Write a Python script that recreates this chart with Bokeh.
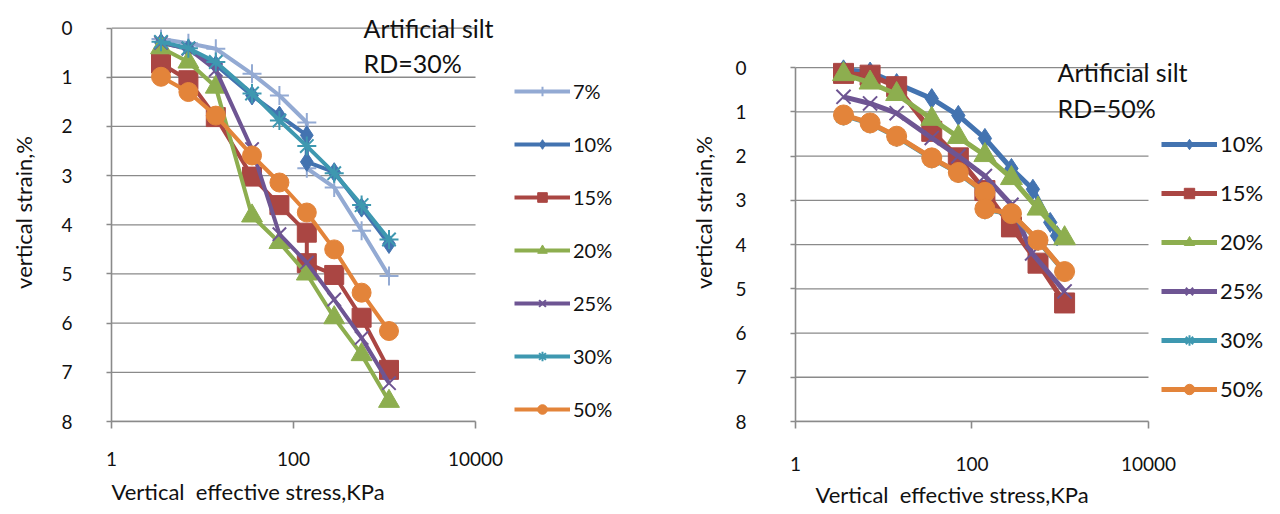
from bokeh.plotting import figure
from bokeh.models import (Range1d, FixedTicker, BasicTickFormatter, Legend, LegendItem, Label, Title)
from bokeh.layouts import row
from bokeh.embed import file_html
from bokeh.resources import INLINE

# ---------------- data: left chart (RD=30%) ----------------
L_x_std = [3.5, 7, 14, 35, 70, 140, 280, 560, 1120]
L_x_jump = [3.5, 7, 14, 35, 70, 140, 140, 280, 560, 1120]
L_7 = [0.22, 0.31, 0.42, 0.93, 1.37, 1.92, 2.85, 3.24, 4.12, 5.04]
L_10 = [0.30, 0.42, 0.75, 1.37, 1.78, 2.18, 2.72, 2.93, 3.65, 4.39]
L_15 = [0.72, 1.06, 1.81, 3.02, 3.60, 4.16, 4.78, 5.02, 5.89, 6.95]
L_20 = [0.40, 0.69, 1.20, 3.82, 4.36, 5.00, 5.89, 6.64, 7.59]
L_25 = [0.30, 0.42, 0.85, 2.46, 4.19, 4.77, 5.52, 6.30, 7.22]
L_30 = [0.28, 0.41, 0.69, 1.33, 1.88, 2.40, 2.95, 3.60, 4.30]
L_50 = [0.99, 1.30, 1.78, 2.59, 3.14, 3.75, 4.50, 5.38, 6.16]

# ---------------- data: right chart (RD=50%) ----------------
R_x_std = [3.5, 7, 14, 35, 70, 140, 280, 560, 1120]
R_x_10 = [3.5, 7, 14, 35, 70, 140, 280, 490, 770, 920]
R_x_25 = [3.5, 7, 14, 35, 70, 140, 280, 480, 1120]
R_x_jump = [3.5, 7, 14, 35, 70, 140, 140, 280, 560, 1120]
R_10 = [0.05, 0.10, 0.36, 0.70, 1.08, 1.60, 2.28, 2.75, 3.50, 3.80]
R_15 = [0.13, 0.17, 0.43, 1.44, 2.04, 2.78, 3.60, 4.42, 5.32]
R_20 = [0.15, 0.34, 0.60, 1.16, 1.57, 1.98, 2.50, 3.19, 3.86]
R_25 = [0.66, 0.81, 1.03, 1.59, 2.00, 2.45, 3.10, 4.20, 5.06]
R_30 = [1.08, 1.26, 1.56, 2.05, 2.38, 2.83, 3.20, 3.31, 3.91, 4.62]
R_50 = [1.07, 1.25, 1.55, 2.04, 2.37, 2.82, 3.19, 3.30, 3.90, 4.61]

x_ticks = [1, 100, 10000]
y_ticks = [0, 1, 2, 3, 4, 5, 6, 7, 8]

COL = {"7%": "#93AAD3", "10%": "#4373B0", "15%": "#AA4643", "20%": "#8DAE4F",
       "25%": "#6E5593", "30%": "#3E98B0", "50%": "#E3843A"}
MARK = {"7%": "cross", "10%": "diamond", "15%": "square", "20%": "triangle",
        "25%": "x", "30%": "asterisk", "50%": "circle"}
FONT = "Lato"
GRID = "#8A8A8A"
TXT = "#111111"
XLABEL = "Vertical\u00a0 effective stress,KPa"


def make_fig(width, height, b_left, b_right, b_top, b_bottom, xend, ytop):
    p = figure(width=width, height=height, x_axis_type="log",
               x_range=Range1d(1, xend), y_range=Range1d(8, ytop),
               output_backend="svg", toolbar_location=None,
               min_border_left=b_left, min_border_right=b_right,
               min_border_top=b_top, min_border_bottom=b_bottom)
    p.outline_line_color = None
    p.background_fill_color = "white"
    p.border_fill_color = "white"
    p.xgrid.grid_line_color = None
    p.ygrid.grid_line_color = None
    # horizontal grid lines spanning the axis extent only
    n = len(y_ticks)
    p.segment(x0=[x_ticks[0]] * n, x1=[x_ticks[-1]] * n, y0=y_ticks, y1=y_ticks,
              line_color=GRID, line_width=1.3)
    p.xaxis.ticker = FixedTicker(ticks=x_ticks)
    p.xaxis.formatter = BasicTickFormatter(use_scientific=False)
    p.xaxis.bounds = (x_ticks[0], x_ticks[-1])
    p.yaxis.ticker = FixedTicker(ticks=y_ticks)
    p.yaxis.bounds = (y_ticks[0], y_ticks[-1])
    for ax in (p.xaxis[0], p.yaxis[0]):
        ax.axis_line_color = GRID
        ax.axis_line_width = 1.6
        ax.major_tick_line_color = GRID
        ax.major_tick_line_width = 1.6
        ax.major_tick_in = 0
        ax.minor_tick_line_color = None
        ax.major_label_text_font = FONT
        ax.major_label_text_font_size = "19px"
        ax.major_label_text_color = TXT
        ax.axis_label_text_font = FONT
        ax.axis_label_text_font_size = "22px"
        ax.axis_label_text_font_style = "normal"
        ax.axis_label_text_color = TXT
    p.xaxis.major_tick_out = 7
    p.yaxis.major_tick_out = 5
    p.yaxis.axis_label = "vertical strain,%"
    return p


def add_series(p, xs, ys, name, lw, msize):
    c = COL[name]
    ln = p.line(xs, ys, line_color=c, line_width=lw)
    m = MARK[name]
    if m in ("cross", "x", "asterisk"):
        sc = p.scatter(xs, ys, marker=m, size=msize, line_color=c, line_width=2, fill_color=None)
    else:
        s = msize * (1.1 if m == "triangle" else 1.0)
        sc = p.scatter(xs, ys, marker=m, size=s, line_color=c, fill_color=c, line_width=1)
    return LegendItem(label=name, renderers=[ln, sc])


def xtitle(p, offset, standoff):
    t = Title(text=XLABEL, align="left", offset=offset, standoff=standoff,
              text_font=FONT, text_font_size="22px", text_font_style="normal",
              text_color=TXT)
    p.add_layout(t, "below")


# ---------------- left figure ----------------
pl = make_fig(640, 512, 111, 15, 3, 91, 444600, -0.5)
pl.yaxis.major_label_standoff = 34
pl.yaxis.axis_label_standoff = 21
pl.xaxis.major_label_standoff = 23
xtitle(pl, 0, 15)

items_l = [
    add_series(pl, L_x_jump, L_7, "7%", 4, 19),
    add_series(pl, L_x_jump, L_10, "10%", 4, 19),
    add_series(pl, L_x_jump, L_15, "15%", 4, 19),
    add_series(pl, L_x_std, L_20, "20%", 4, 19),
    add_series(pl, L_x_std, L_25, "25%", 4, 19),
    add_series(pl, L_x_std, L_30, "30%", 4, 19),
    add_series(pl, L_x_std, L_50, "50%", 4, 19),
]
leg_l = Legend(items=items_l, location=(403, 0), orientation="vertical",
               glyph_width=56, glyph_height=24, label_height=24, spacing=29,
               label_standoff=3, padding=0, margin=0,
               label_text_font=FONT, label_text_font_size="20px",
               label_text_color=TXT,
               background_fill_alpha=0, border_line_color=None)
pl.add_layout(leg_l, "center")
pl.add_layout(Label(x=588, y=0.0, text="Artificial silt", text_font=FONT,
                    text_font_size="25px", text_baseline="middle", text_color=TXT))
pl.add_layout(Label(x=588, y=0.70, text="RD=30%", text_font=FONT,
                    text_font_size="25px", text_baseline="middle", text_color=TXT))

# ---------------- right figure ----------------
pr = make_fig(636, 512, 155, 6, 3, 91, 241300, -1.45)
pr.yaxis.major_label_standoff = 44
pr.yaxis.axis_label_standoff = 15
pr.xaxis.major_label_standoff = 28
xtitle(pr, 20, 10)

items_r = [
    add_series(pr, R_x_10, R_10, "10%", 5, 20),
    add_series(pr, R_x_std, R_15, "15%", 5, 20),
    add_series(pr, R_x_std, R_20, "20%", 5, 20),
    add_series(pr, R_x_25, R_25, "25%", 5, 20),
    add_series(pr, R_x_jump, R_30, "30%", 5, 20),
    add_series(pr, R_x_jump, R_50, "50%", 5, 20),
]
leg_r = Legend(items=items_r, location=(366, 19), orientation="vertical",
               glyph_width=56, glyph_height=26, label_height=26, spacing=22,
               label_standoff=3, padding=0, margin=0,
               label_text_font=FONT, label_text_font_size="22px",
               label_text_color=TXT,
               background_fill_alpha=0, border_line_color=None)
pr.add_layout(leg_r, "center")
pr.add_layout(Label(x=931, y=0.1, text="Artificial silt", text_font=FONT,
                    text_font_size="25px", text_baseline="middle", text_color=TXT))
pr.add_layout(Label(x=931, y=0.92, text="RD=50%", text_font=FONT,
                    text_font_size="25px", text_baseline="middle", text_color=TXT))

lay = row(pl, pr)
open("out.html", "w").write(file_html(lay, INLINE))
